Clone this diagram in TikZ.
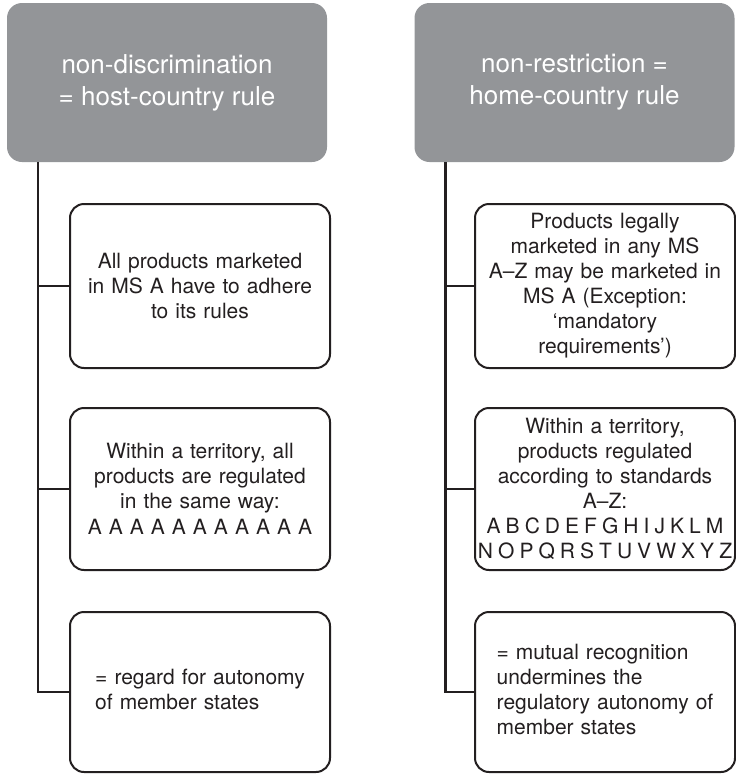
\documentclass[tikz,border=0pt]{standalone}
\usepackage{fontspec}
\setmainfont{TeX Gyre Heros}
\definecolor{headgray}{RGB}{147,149,152}
\definecolor{ink}{RGB}{35,31,32}
\begin{document}
\begin{tikzpicture}[x=1pt,y=-1pt,
  head/.style={fill=headgray,text=white,rounded corners=15pt,minimum width=320pt,minimum height=159pt,align=center,font=\fontsize{26pt}{32pt}\selectfont},
  point/.style={draw=ink,text=ink,line width=2pt,rounded corners=14pt,minimum width=260pt,text width=254pt,inner xsep=3pt,align=center,font=\fontsize{21pt}{25pt}\selectfont},
  link/.style={draw=ink,line width=2.4pt}]
\useasboundingbox (0,0) rectangle (736,774);
\node[head] (hostrule) at (167,82.5) {non-discrimination\\= host-country rule};
\node[head] (homerule) at (574.5,82.5) {non-restriction =\\home-country rule};
\node[point,minimum height=164pt] (allrules) at (200,286) {All products marketed\\in MS A have to adhere\\to its rules};
\node[point,minimum height=162pt] (sameway) at (200,489) {Within a territory, all\\products are regulated\\in the same way:\\[1pt]A A A A A A A A A A A};
\node[point,minimum height=160pt] (autonomy) at (200,692) {\begin{tabular}{@{}l@{}}= regard for autonomy\\of member states\end{tabular}};
\node[point,minimum height=164pt] (anyms) at (605,286) {Products legally\\marketed in any MS\\A–Z may be marketed in\\MS A (Exception:\\‘mandatory\\requirements’)};
\node[point,minimum height=162pt] (standards) at (605,489) {Within a territory,\\products regulated\\according to standards\\A–Z:\\\makebox[0pt]{\spaceskip=.24em\relax A B C D E F G H I J K L M}\\\makebox[0pt]{\spaceskip=.24em\relax N O P Q R S T U V W X Y Z}};
\node[point,minimum height=160pt] (undermine) at (605,692) {\begin{tabular}{@{}l@{}}= mutual recognition\\undermines the\\regulatory autonomy of\\member states\end{tabular}};
\coordinate (ltop) at ([xshift=31pt]hostrule.south west);
\coordinate (rtop) at ([xshift=31pt]homerule.south west);
\draw[link] (ltop) |- (autonomy.west);
\draw[link] (rtop) |- (undermine.west);
\foreach \b in {allrules,sameway}
  \draw[link] (ltop |- \b.west) -- (\b.west);
\foreach \b in {anyms,standards}
  \draw[link] (rtop |- \b.west) -- (\b.west);
\end{tikzpicture}
\end{document}
